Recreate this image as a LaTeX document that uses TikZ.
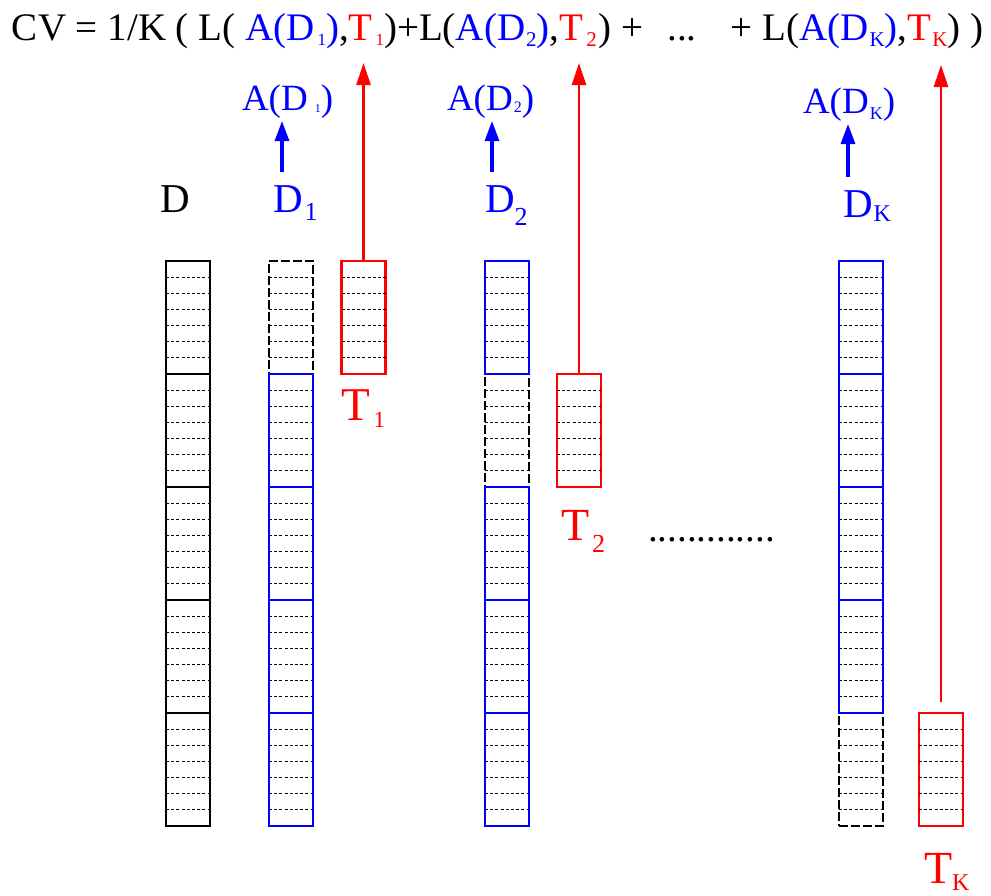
\documentclass[tikz,border=0pt]{standalone}
\usepackage{fontspec}
\setmainfont{Liberation Serif}
\usetikzlibrary{arrows.meta,calc}
\definecolor{pblue}{RGB}{0,0,255}
\definecolor{pred}{RGB}{255,0,0}
\newcommand\fs[1]{\fontsize{#1}{#1}\selectfont}
\newcommand\lsub[3]{\raisebox{-#2pt}{\fs{#1}#3}}
\newcommand\bl[1]{\textcolor{pblue}{#1}}
\newcommand\rd[1]{\textcolor{pred}{#1}}
\begin{document}
\begin{tikzpicture}[x=1pt,y=-1pt,
  blk/.style={line width=2.6pt, minimum width=44pt, minimum height=113pt, inner sep=0pt, outer sep=0pt},
  kblk/.style={blk, draw=black},
  bblk/.style={blk, draw=pblue},
  rblk/.style={blk, draw=pred},
  dblk/.style={blk, draw=black, line width=1.7pt, dash pattern=on 9pt off 3pt},
  innerl/.style={black, line width=1.2pt, dash pattern=on 3pt off 2.2pt},
  lab/.style={anchor=base west, inner sep=0pt, outer sep=0pt},
  redarr/.style={draw=pred, line width=2.6pt, -{Triangle[length=22pt,width=14pt]}},
  bluearr/.style={draw=pblue, line width=3.2pt, -{Triangle[length=20pt,width=14pt]}},
]
\useasboundingbox (0,0) rectangle (991,895);

% formula
\node[lab] (cv) at (12,40) {\fs{39}CV = 1/K ( L( \bl{A(D\kern3pt\lsub{17}{5}{1})},\rd{T\kern3pt\lsub{17}{5}{1}})+L(\bl{A(D\kern1pt\lsub{21}{6}{2})},\rd{T\kern3pt\lsub{21}{6}{2}}\kern2pt) +\hspace{24pt}...\hspace{34pt}+ L(\bl{A(D\kern1pt\lsub{21}{6}{K})},\rd{T\kern1pt\lsub{21}{6}{K}}) )};

% columns of blocks
\foreach \nm/\cx/\r/\st in {
  d0/188/0/kblk, d1/188/1/kblk, d2/188/2/kblk, d3/188/3/kblk, d4/188/4/kblk,
  a0/291/0/dblk, a1/291/1/bblk, a2/291/2/bblk, a3/291/3/bblk, a4/291/4/bblk,
  b1/507/1/dblk, b0/507/0/bblk, b2/507/2/bblk, b3/507/3/bblk, b4/507/4/bblk,
  c4/861/4/dblk, c0/861/0/bblk, c1/861/1/bblk, c2/861/2/bblk, c3/861/3/bblk}{
  \node[\st] (\nm) at (\cx, {317.5+113*\r}) {};
  \foreach \i in {1,...,6}
    \draw[innerl] ($(\nm.north west)!\i/7!(\nm.south west)$) -- ($(\nm.north east)!\i/7!(\nm.south east)$);
}
% test blocks
\foreach \nm/\cx/\cy in {t1/363.5/317.5, t2/579/430.5, tk/941/769.5}{
  \node[rblk] (\nm) at (\cx,\cy) {};
  \foreach \i in {1,...,6}
    \draw[innerl] ($(\nm.north west)!\i/7!(\nm.south west)$) -- ($(\nm.north east)!\i/7!(\nm.south east)$);
}

% labels
\node[lab, text=black] (lD) at (160,212) {\fs{41}D};
\node[lab, text=pblue] (lD1) at (273,212) {\fs{41}D\kern2pt\lsub{26}{8}{1}};
\node[lab, text=pblue] (lD2) at (485,212) {\fs{41}D\lsub{26}{13}{2}};
\node[lab, text=pblue] (lDK) at (843,217) {\fs{41}D\kern1pt\lsub{24}{4}{K}};
\node[lab, text=pblue] (lAD1) at (242,110) {\fs{37}A(D\kern7pt\lsub{12}{2}{1})};
\node[lab, text=pblue] (lAD2) at (447,110) {\fs{37}A(D\kern1pt\lsub{16}{2}{2})};
\node[lab, text=pblue] (lADK) at (803,113) {\fs{37}A(D\kern1pt\lsub{18}{6}{K})};
\node[lab, text=pred] (lT1) at (341,420) {\fs{47}T\kern4pt\lsub{23}{7}{1}};
\node[lab, text=pred] (lT2) at (561,540) {\fs{46}T\kern3pt\lsub{26}{12}{2}};
\node[lab, text=pred] (lTK) at (924,883) {\fs{46}T\kern0pt\lsub{24}{7}{K}};
\node[lab] (dots) at (648,541) {\fs{39}.............};

% red arrows
\coordinate (t1top) at (363.5,63);
\coordinate (t2top) at (579,63);
\coordinate (tktop) at (941,65);
\draw[redarr] (t1.north) -- (t1top);
\draw[redarr] (t2.north) -- (t2top);
\draw[redarr, shorten <=11pt] (tk.north) -- (tktop);

% blue arrows
\coordinate (a1s) at (282,172); \coordinate (a1e) at (282,121);
\coordinate (a2s) at (492,172); \coordinate (a2e) at (492,121);
\coordinate (aks) at (848,177); \coordinate (ake) at (848,124);
\draw[bluearr] (a1s) -- (a1e);
\draw[bluearr] (a2s) -- (a2e);
\draw[bluearr] (aks) -- (ake);
\end{tikzpicture}
\end{document}
